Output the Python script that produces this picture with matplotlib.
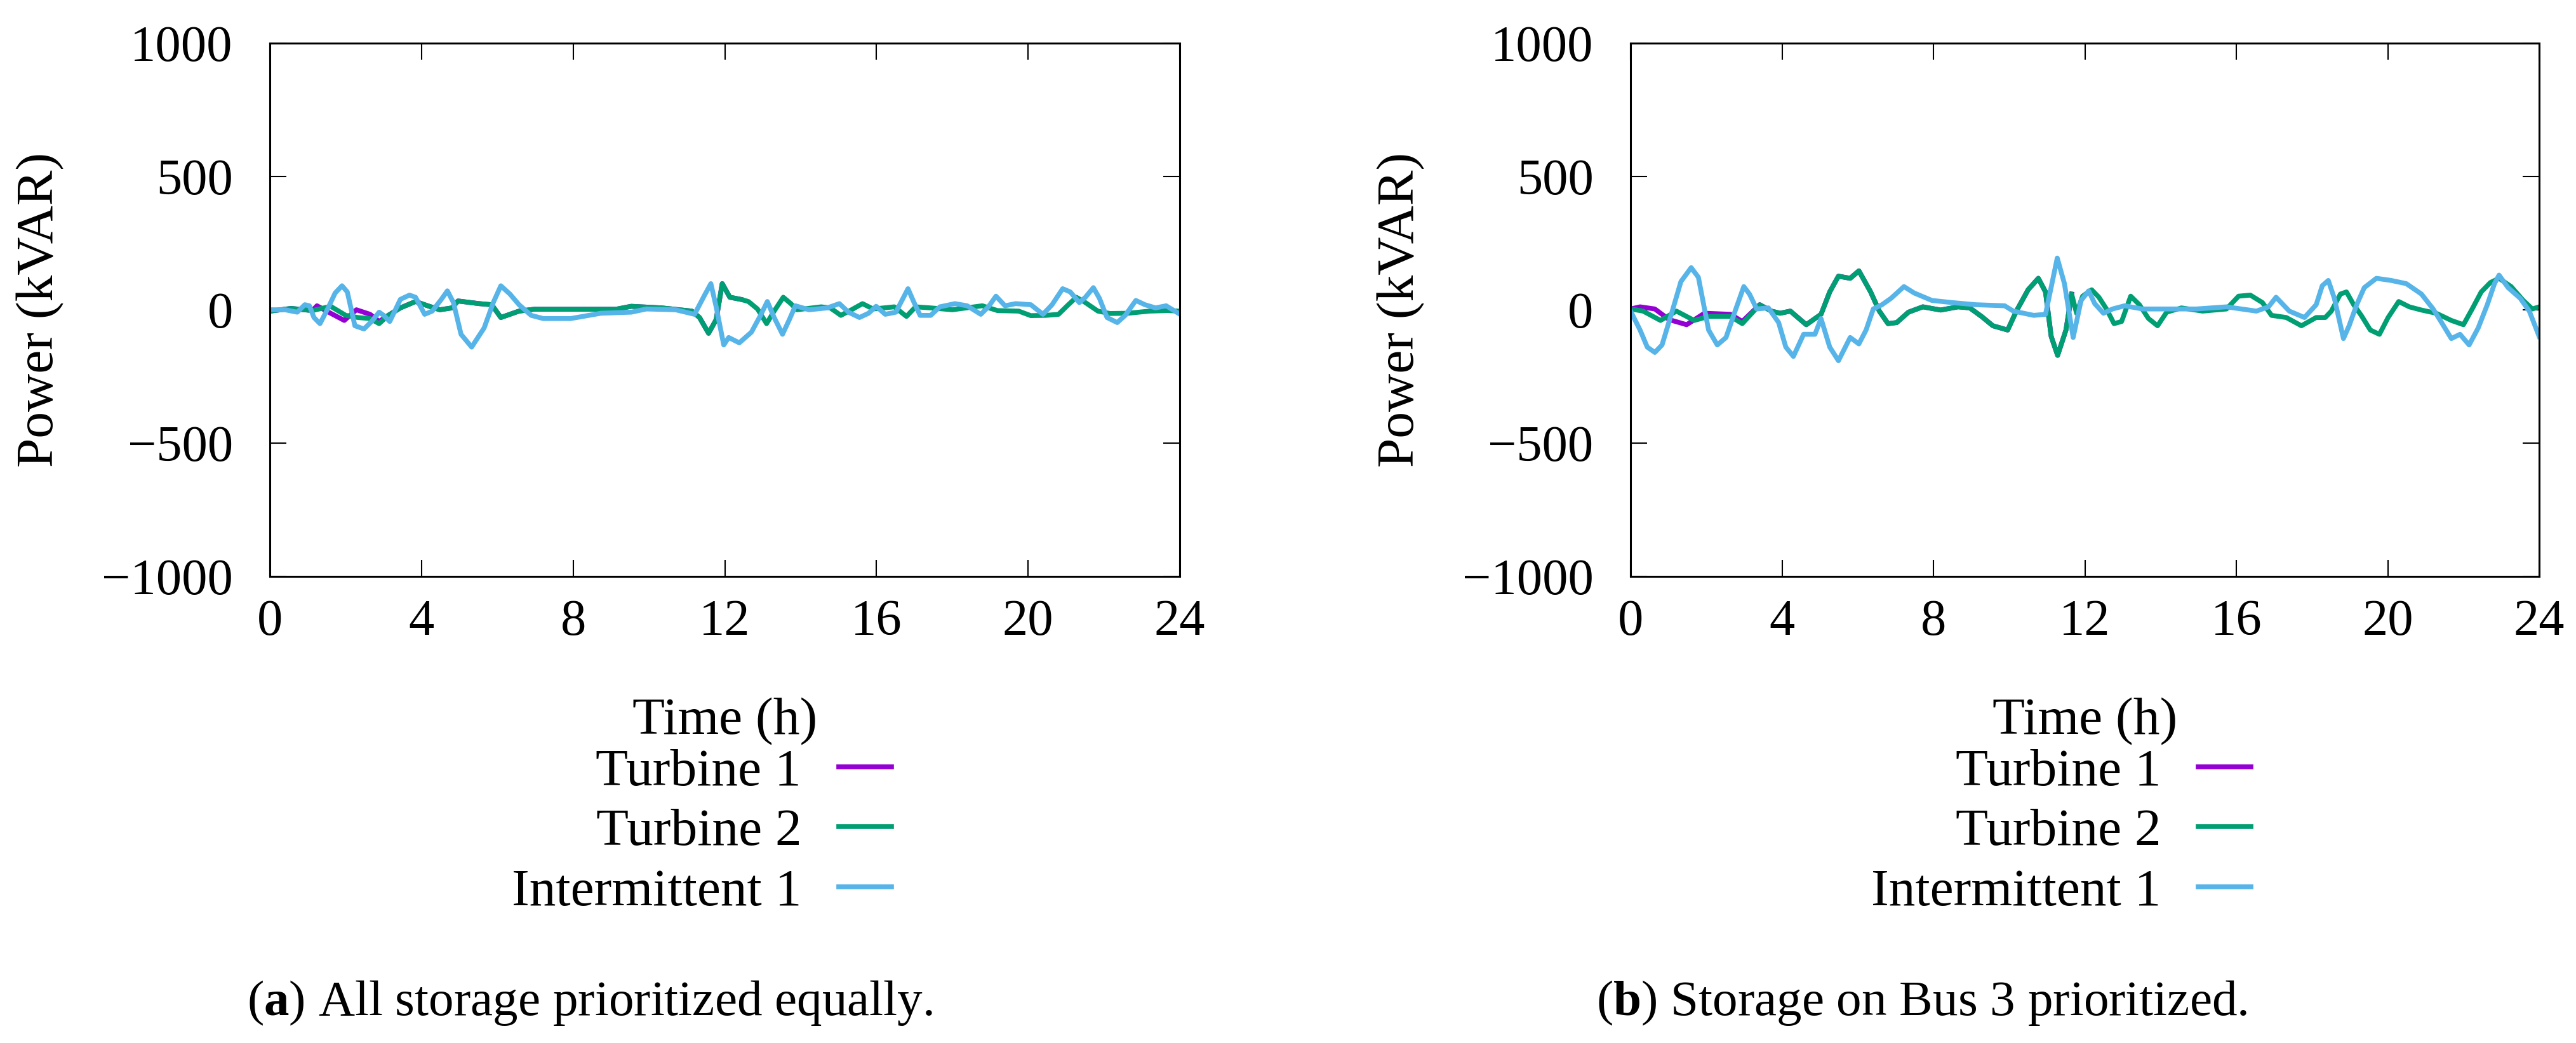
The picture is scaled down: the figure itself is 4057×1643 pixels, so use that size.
import matplotlib
matplotlib.use('Agg')
import matplotlib.pyplot as plt

plt.rcParams['font.family'] = ['Liberation Serif', 'DejaVu Serif']
plt.rcParams['mathtext.fontset'] = 'custom'
plt.rcParams['mathtext.rm'] = 'Liberation Serif'
plt.rcParams['mathtext.bf'] = 'Liberation Serif:bold'

# (a) all storage prioritized equally
a_t1_h = [0, 0.56, 1.12, 1.24, 1.6, 1.96, 2.28, 2.64, 2.88, 3.12, 3.44, 3.84, 4.16, 4.48, 4.8, 4.96,
          5.52, 5.85, 6.09, 6.57, 6.97, 7.93, 9.13, 9.53, 10.33, 11.13, 11.33, 11.57, 11.77, 11.93,
          12.13, 12.42]
a_t1 = [-5, 5, -3, 15, -13, -40, 0, -17, -44, -21, 7, 31, 15, 0, 7, 33,
        23, 19, -29, -5, 2, 2, 2, 13, 7, -5, -29, -88, -37, 98,
        47, 39]

a_t2_h = [0, 0.56, 1.12, 1.6, 2.0, 2.32, 2.64, 2.88, 3.12, 3.44, 3.84, 4.16, 4.48, 4.8, 4.96,
          5.52, 5.85, 6.09, 6.57, 6.97, 7.93, 9.13, 9.53, 10.33, 11.13, 11.33, 11.57, 11.77, 11.93,
          12.13, 12.42, 12.62, 12.86, 13.1, 13.3, 13.54, 13.74, 13.9, 14.54, 14.78, 15.06, 15.34,
          15.63, 15.91, 16.47, 16.79, 17.03, 17.43, 18.0, 18.79, 19.19, 19.75, 20.07, 20.47, 20.8,
          21.03, 21.27, 21.51, 21.84, 22.16, 22.64, 23.2, 23.68, 24.0]
a_t2 = [-5, 5, -3, 13, -21, -29, -33, -52, -21, 7, 31, 15, 0, 7, 33,
        23, 19, -29, -5, 2, 2, 2, 13, 7, -5, -29, -88, -37, 98,
        47, 39, 31, 3, -52, -5, 47, 23, 0, 11, 7, -21, 0,
        23, 3, 11, -25, 11, 7, 0, 15, -3, -5, -22, -21, -17,
        15, 47, 27, -5, -14, -13, -5, -3, -5]

a_i1_h = [0, 0.4, 0.72, 0.92, 1.04, 1.16, 1.32, 1.52, 1.72, 1.9, 2.04, 2.24, 2.48, 2.68, 2.88, 3.0,
          3.16, 3.44, 3.68, 3.84, 4.08, 4.28, 4.52, 4.68, 4.84, 5.04, 5.32, 5.65, 5.89, 6.09, 6.33,
          6.57, 6.89, 7.21, 7.93, 8.73, 9.53, 9.93, 10.7, 11.2, 11.45, 11.63, 11.77, 11.97, 12.1,
          12.38, 12.7, 12.94, 13.12, 13.3, 13.52, 13.7, 13.86, 14.22, 14.7, 15.02, 15.26, 15.55,
          15.79, 15.99, 16.23, 16.51, 16.67, 16.83, 16.99, 17.15, 17.43, 17.67, 18.07, 18.39, 18.75,
          18.95, 19.15, 19.39, 19.67, 20.07, 20.39, 20.63, 20.91, 21.11, 21.35, 21.51, 21.72, 21.88,
          22.08, 22.35, 22.56, 22.84, 23.08, 23.36, 23.64, 23.96]
a_i1 = [0, 0, -9, 19, 15, -29, -52, 3, 63, 90, 67, -60, -72, -44, -9, -21,
        -44, 39, 55, 47, -17, -5, 39, 71, 27, -92, -140, -68, 27, 90, 59,
        19, -21, -33, -33, -13, -9, 3, 0, -17, 51, 98, 11, -132, -104,
        -124, -84, -21, 31, -29, -92, -37, 15, 0, 7, 23, -9, -29,
        -13, 13, -17, -9, 35, 79, 27, -21, -21, 11, 23, 15, -17,
        11, 51, 15, 23, 19, -17, 19, 79, 67, 27, 47, 83, 43,
        -29, -48, -21, 35, 19, 7, 15, -13]

# (b) storage on bus 3 prioritized
b_t1_h = [0, 0.25, 0.64, 1.02, 1.48, 1.95, 2.64, 2.95, 3.41, 3.72, 3.95, 4.22, 4.64, 5.03, 5.26,
          5.49, 5.8, 6.03, 6.34, 6.57, 6.8, 7.03, 7.34, 7.72, 8.19, 8.65, 8.96, 9.27, 9.57, 9.96,
          10.19, 10.5, 10.77, 10.96, 11.11, 11.28, 11.5, 11.65]
b_t1 = [3, 11, 3, -37, -56, -13, -17, -44, 19, -5, -13, -5, -56, -17, 67,
        126, 118, 146, 67, -5, -52, -48, -9, 11, -1, 11, 7, -25, -60, -76,
        -5, 75, 118, 67, -100, -171, -76, 59]

b_t2_h = [0, 0.33, 0.79, 1.21, 1.68, 2.06, 2.64, 2.95, 3.41, 3.72, 3.95, 4.22, 4.64, 5.03, 5.26,
          5.49, 5.8, 6.03, 6.34, 6.57, 6.8, 7.03, 7.34, 7.72, 8.19, 8.65, 8.96, 9.27, 9.57, 9.96,
          10.19, 10.5, 10.77, 10.96, 11.11, 11.28, 11.5, 11.65, 11.78, 11.94, 12.18, 12.37, 12.57,
          12.77, 12.97, 13.21, 13.44, 13.68, 13.92, 14.16, 14.55, 15.11, 15.74, 16.06, 16.37, 16.69,
          16.93, 17.32, 17.72, 18.11, 18.35, 18.51, 18.75, 18.91, 19.1, 19.3, 19.54, 19.78, 20.01,
          20.29, 20.57, 20.89, 21.28, 21.68, 22.0, 22.23, 22.47, 22.71, 22.94, 23.26, 23.58, 23.82,
          24.0]
b_t2 = [3, -5, -40, -5, -40, -25, -25, -52, 19, -5, -13, -5, -56, -17, 67,
        126, 118, 146, 67, -5, -52, -48, -9, 11, -1, 11, 7, -25, -60, -76,
        -5, 75, 118, 67, -100, -171, -76, 59, -13, 51, 75, 47, 3,
        -52, -44, 51, 19, -33, -60, -9, 7, -5, 3, 51, 55, 27,
        -21, -29, -60, -29, -29, -5, 59, 67, 19, -21, -76, -92, -29,
        31, 11, -1, -13, -40, -56, 3, 67, 102, 118, 87, 35, 3,
        11]

b_i1_h = [0, 0.25, 0.44, 0.64, 0.83, 1.1, 1.33, 1.6, 1.79, 2.06, 2.29, 2.52, 2.76, 2.99, 3.14,
          3.33, 3.64, 3.91, 4.1, 4.3, 4.57, 4.87, 5.03, 5.26, 5.49, 5.8, 6.03, 6.22, 6.41, 6.64,
          6.88, 7.22, 7.49, 7.96, 8.49, 9.11, 9.88, 10.11, 10.65, 10.96, 11.27, 11.46, 11.69, 11.9,
          12.1, 12.26, 12.49, 12.73, 13.05, 13.52, 14.16, 14.95, 15.74, 16.53, 16.85, 17.05, 17.4,
          17.8, 18.11, 18.27, 18.43, 18.59, 18.83, 18.98, 19.18, 19.38, 19.7, 20.09, 20.49, 20.89,
          21.2, 21.44, 21.68, 21.91, 22.15, 22.39, 22.63, 22.82, 22.94, 23.18, 23.5, 23.74, 24.0]
b_i1 = [-5, -76, -140, -160, -132, -5, 106, 158, 122, -76, -132, -104, -5, 87, 59,
        3, 7, -48, -140, -175, -92, -92, -33, -140, -191, -104, -128, -76, 3, 19,
        43, 87, 63, 35, 27, 19, 15, -5, -21, -17, 194, 98, -104, 35,
        71, 23, -13, 3, 15, 3, 3, 3, 11, -5, 11, 47, -5,
        -29, 19, 90, 110, 43, -108, -60, 19, 83, 118, 110, 98, 59,
        3, -52, -108, -92, -132, -68, 19, 98, 130, 83, 43, -5, -100]

names = ['Turbine 1', 'Turbine 2', 'Intermittent 1']
colors = ['#9400d3', '#009e73', '#56b4e9']
x_ticks = [0, 4, 8, 12, 16, 20, 24]
y_ticks = [-1000, -500, 0, 500, 1000]
captions = [r'($\mathbf{a}$) All storage prioritized equally.',
            r'($\mathbf{b}$) Storage on Bus 3 prioritized.']

fig = plt.figure(figsize=(40.57, 16.43), dpi=100)
ax1 = fig.add_axes([0.1048, 0.4474, 0.3532, 0.5112])
ax2 = fig.add_axes([0.633, 0.4474, 0.3527, 0.5112])

panels = [
    (ax1, [(a_t1_h, a_t1), (a_t2_h, a_t2), (a_i1_h, a_i1)]),
    (ax2, [(b_t1_h, b_t1), (b_t2_h, b_t2), (b_i1_h, b_i1)]),
]

for ax, series in panels:
    for (h, v), name, c in zip(series, names, colors):
        ax.plot(h, v, color=c, lw=5.5, label=name, solid_joinstyle='round')
    ax.set_xlim(0, 24)
    ax.set_ylim(-1000, 1000)
    ax.set_xticks(x_ticks)
    ax.set_yticks(y_ticks)
    ax.tick_params(direction='in', top=True, right=True, length=19, width=1.5,
                   labelsize=58)
    ax.tick_params(axis='y', pad=42)
    ax.tick_params(axis='x', pad=26)
    for s in ax.spines.values():
        s.set_linewidth(2.2)
    ax.set_xlabel('Time (h)', fontsize=60)
    ax.set_ylabel('Power (kVAR)', fontsize=60)
    ax.xaxis.set_label_coords(0.5, -0.272)
    ax.xaxis.label.set_va('center')
    ax.yaxis.set_label_coords(-0.2526, 0.5)
    ax.yaxis.label.set_va('center')
    ax.legend(loc='upper right', bbox_to_anchor=(0.683, -0.322), frameon=False,
              markerfirst=False, fontsize=60, handlelength=1.0, handletextpad=0.7,
              labelspacing=0.22, borderpad=0, borderaxespad=0)

fig.text(0.229, 0.0268, captions[0], ha='center', va='baseline', fontsize=57)
fig.text(0.746, 0.0268, captions[1], ha='center', va='baseline', fontsize=57)

fig.savefig('out.png', dpi=100)
